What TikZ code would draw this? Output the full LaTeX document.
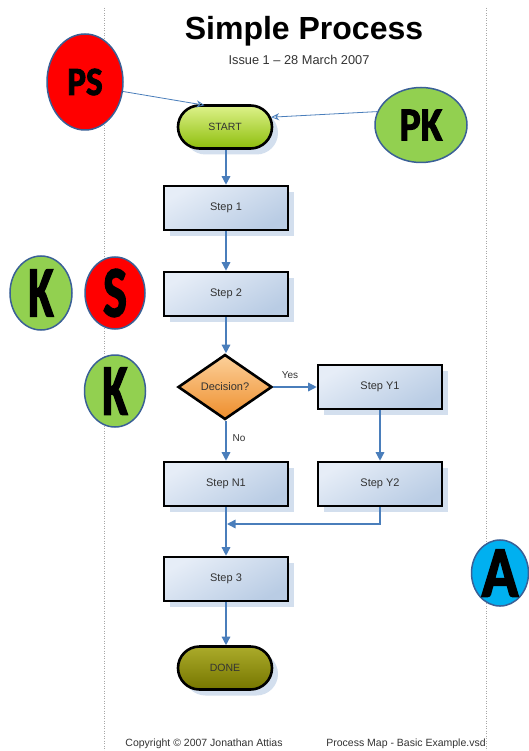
\documentclass[tikz,border=0pt]{standalone}
\usepackage{fontspec}
\usepackage{graphicx}
\setmainfont{Liberation Sans}
\newfontfamily\letterfont{Carlito}[BoldFeatures={FakeBold=2.5}]
\usetikzlibrary{shapes.geometric,shapes.misc,arrows.meta,shadows}

\definecolor{flowblue}{HTML}{4A7EBB}
\definecolor{boxlight}{HTML}{E6EDF7}
\definecolor{boxdark}{HTML}{B9CCE4}
\definecolor{shadowblue}{HTML}{D3DFEE}
\definecolor{startlight}{HTML}{DDF28A}
\definecolor{startdark}{HTML}{8EBE0C}
\definecolor{donelight}{HTML}{ABAB2A}
\definecolor{donedark}{HTML}{767600}
\definecolor{declight}{HTML}{FCD09A}
\definecolor{decdark}{HTML}{EE8E2C}
\definecolor{tagred}{HTML}{FF0000}
\definecolor{taggreen}{HTML}{92D050}
\definecolor{tagblue}{HTML}{00B0F0}
\definecolor{tagborder}{HTML}{3A6096}
\definecolor{labelgray}{HTML}{333333}

\tikzset{
  boxshadow/.style={drop shadow={shadow xshift=6pt, shadow yshift=-6pt, fill=shadowblue, opacity=1}},
  stepbox/.style={rectangle, draw=black, line width=2.6pt, minimum width=124pt, minimum height=44pt,
    inner sep=0pt, top color=boxlight, bottom color=boxdark, shading angle=30, boxshadow,
    font=\fontsize{11}{13}\selectfont, text=labelgray},
  terminal/.style={rounded rectangle, draw=black, line width=2.6pt, minimum width=94pt, minimum height=43pt,
    inner sep=0pt, boxshadow, font=\fontsize{10.5}{12}\selectfont, text=labelgray},
  decision/.style={diamond, draw=black, line width=2.6pt, minimum width=94pt, minimum height=65pt,
    inner sep=0pt, top color=declight, bottom color=decdark, font=\fontsize{11}{13}\selectfont, text=labelgray},
  tag/.style={ellipse, draw=tagborder, line width=1.5pt, inner sep=0pt},
  flow/.style={draw=flowblue, line width=1.4pt, -{Triangle[length=8.5pt,width=8.5pt]}},
  thinflow/.style={draw=flowblue, line width=0.8pt, -{Stealth[length=8pt,width=7pt,open]}},
  edgelabel/.style={font=\fontsize{10}{12}\selectfont, text=labelgray},
  margin/.style={draw=gray!70, line width=0.5pt, dotted},
}

\newcommand{\tagletters}[3]{\letterfont\bfseries\fontsize{#1}{#1}\selectfont\scalebox{#2}[1]{#3}}

\begin{document}
\begin{tikzpicture}[x=1pt,y=-1pt]
  \useasboundingbox (0,0) rectangle (529,751);
  \fill[white] (0,0) rectangle (529,751);

  % page margins
  \coordinate (mlt) at (104,8);
  \coordinate (mlb) at (104,751);
  \coordinate (mrt) at (486,8);
  \coordinate (mrb) at (486,751);
  \draw[margin] (mlt) -- (mlb);
  \draw[margin] (mrt) -- (mrb);

  % heading
  \node[font=\bfseries\fontsize{32}{36}\selectfont] (title) at (304,31) {Simple Process};
  \node[font=\fontsize{12.8}{15}\selectfont, text=labelgray] (issue) at (299,60) {Issue 1 – 28 March 2007};

  % process steps
  \node[terminal, top color=startlight, bottom color=startdark] (START) at (225,127) {START};
  \node[stepbox] (S1) at (226,208) {Step 1};
  \node[stepbox] (S2) at (226,294) {Step 2};
  \node[decision] (DEC) at (225,387) {Decision?};
  \node[stepbox] (Y1) at (380,387) {Step Y1};
  \node[stepbox] (N1) at (226,484) {Step N1};
  \node[stepbox] (Y2) at (380,484) {Step Y2};
  \node[stepbox] (S3) at (226,579) {Step 3};
  \node[terminal, top color=donelight, bottom color=donedark] (DONE) at (225,668) {DONE};

  % flow connectors
  \coordinate (merge) at (227,524);
  \draw[flow] (START.south -| S1.north) -- (S1.north);
  \draw[flow] (S1) -- (S2);
  \draw[flow] (S2.south) -- (DEC.north -| S2.south);
  \draw[flow] (DEC.east) -- (Y1.west);
  \draw[flow] (DEC.south -| N1.north) -- (N1.north);
  \draw[flow] (Y1) -- (Y2);
  \draw[flow] (N1) -- (S3);
  \draw[flow] (Y2.south) |- (merge);
  \draw[flow] (S3.south) -- (DONE.north -| S3.south);

  \node[edgelabel] (yes) at (290,375) {Yes};
  \node[edgelabel] (no) at (239,438) {No};

  % role tags
  \node[tag, fill=tagred, minimum width=76pt, minimum height=96pt] (PS) at (85,82) {\tagletters{40}{0.88}{PS}};
  \node[tag, fill=taggreen, minimum width=92pt, minimum height=75pt] (PK) at (421,125) {\tagletters{47}{0.84}{PK}};
  \node[tag, fill=taggreen, minimum width=62pt, minimum height=74pt] (K1) at (41,293) {\tagletters{72}{0.64}{K}};
  \node[tag, fill=tagred, minimum width=60pt, minimum height=72pt] (S) at (115,293) {\tagletters{72}{0.7}{S}};
  \node[tag, fill=taggreen, minimum width=61pt, minimum height=72pt] (K2) at (115,391) {\tagletters{72}{0.64}{K}};
  \node[tag, fill=tagblue, minimum width=57pt, minimum height=65pt] (A) at (500,573) {\tagletters{72}{0.84}{A}};

  \draw[thinflow] (PS.-14) -- ([xshift=5pt,yshift=-1pt]START.north west);
  \draw[thinflow] (PK.163) -- (START.12);

  % footer
  \node[font=\fontsize{10.5}{12}\selectfont, text=labelgray] (copy) at (204,744) {Copyright © 2007 Jonathan Attias};
  \node[font=\fontsize{10.5}{12}\selectfont, text=labelgray] (file) at (406,744) {Process Map - Basic Example.vsd};
\end{tikzpicture}
\end{document}
